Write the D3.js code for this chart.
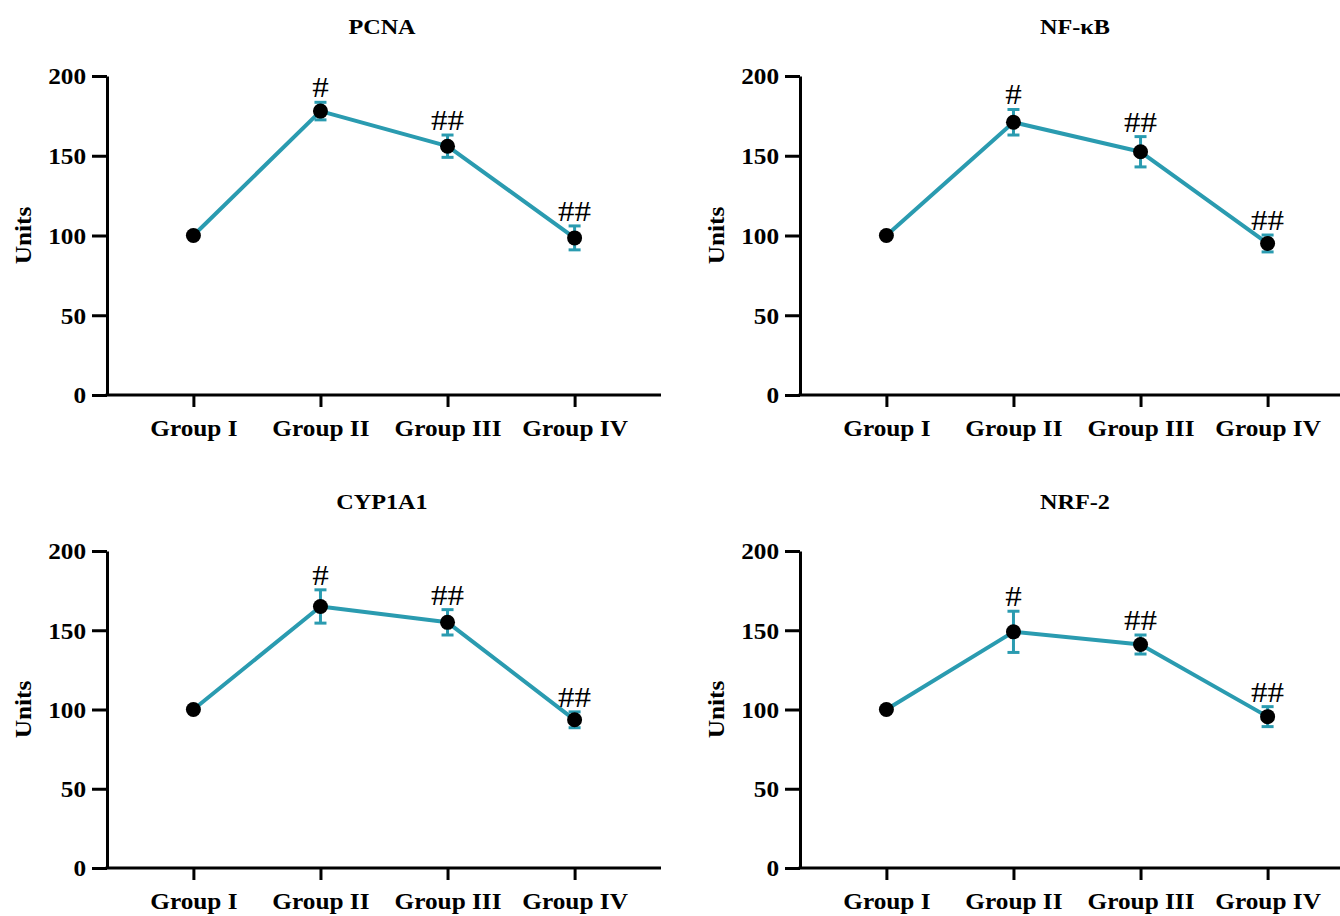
<!DOCTYPE html>
<html>
<head>
<meta charset="utf-8">
<script src="https://cdn.jsdelivr.net/npm/d3@7"></script>
<style>
    body { margin: 0; background: #fff; }
</style>
</head>
<body>
<div id="chart"></div>
<script>
const groups = ["Group I", "Group II", "Group III", "Group IV"];
const markers = ["PCNA", "NF-κB", "CYP1A1", "NRF-2"];
const yTicks = [0, 50, 100, 150, 200];
const signif = ["", "#", "##", "##"];

const pcnaMean = [100, 178, 156, 98.5];
const pcnaErr = [0, 5.5, 7, 7.5];
const nfkbMean = [100, 171, 152.5, 95];
const nfkbErr = [0, 8, 9.5, 5.3];
const cypMean = [100, 165, 155, 93.5];
const cypErr = [0, 10.5, 8, 5];
const nrfMean = [100, 149, 141, 95.5];
const nrfErr = [0, 13, 6, 6.3];

const means = [pcnaMean, nfkbMean, cypMean, nrfMean];
const errs = [pcnaErr, nfkbErr, cypErr, nrfErr];

const lineColor = "#2a9bb0";
const fontFamily = "'Liberation Serif', 'Times New Roman', serif";
const stretch = 1.1;

const svg = d3.select("#chart")
    .append("svg")
    .attr("width", 1340)
    .attr("height", 916)
    .style("font-family", fontFamily);

// panel frames: left edge of y axis, top (200) and bottom (0) of y range
const panels = [
    { x0: 107, top: 76, bottom: 395 },
    { x0: 800, top: 76, bottom: 395 },
    { x0: 107, top: 551, bottom: 868 },
    { x0: 800, top: 551, bottom: 868 }
];
const plotWidth = 554;

panels.forEach((p, k) => {
    const g = svg.append("g").attr("transform", `translate(${p.x0},0)`);

    const x = d3.scalePoint()
        .domain(groups)
        .range([0, plotWidth])
        .padding(0.68);

    const y = d3.scaleLinear()
        .domain([0, 200])
        .range([p.bottom, p.top]);

    // y axis
    const yAxis = g.append("g")
        .call(d3.axisLeft(y).tickValues(yTicks).tickSize(15).tickSizeOuter(0).tickPadding(4));
    yAxis.selectAll("path, line")
        .attr("stroke", "#000")
        .attr("stroke-width", 3);
    yAxis.selectAll("text")
        .attr("x", -19)
        .attr("dy", "0.34em")
        .attr("transform", `scale(${stretch},1)`)
        .style("font-size", "23px")
        .style("font-weight", "bold")
        .style("font-family", fontFamily)
        .attr("fill", "#000");

    // x axis
    const xAxis = g.append("g")
        .attr("transform", `translate(0,${p.bottom})`)
        .call(d3.axisBottom(x).tickSize(12).tickSizeOuter(0));
    xAxis.select(".domain")
        .attr("stroke", "#000")
        .attr("stroke-width", 3)
        .attr("d", `M-1.5,0H${plotWidth}`);
    xAxis.selectAll("line")
        .attr("stroke", "#000")
        .attr("stroke-width", 3);
    xAxis.selectAll("text")
        .attr("y", 41)
        .attr("dy", 0)
        .attr("transform", `scale(${stretch},1)`)
        .style("font-size", "23px")
        .style("font-weight", "bold")
        .style("font-family", fontFamily)
        .attr("fill", "#000");

    // title
    g.append("text")
        .attr("transform", `translate(${plotWidth / 2 - 2},${p.top - 42}) scale(${stretch},1)`)
        .attr("text-anchor", "middle")
        .style("font-size", "22px")
        .style("font-weight", "bold")
        .text(markers[k]);

    // y label
    g.append("text")
        .attr("transform", `translate(-76,${y(100)}) rotate(-90) scale(${stretch},1)`)
        .attr("text-anchor", "middle")
        .style("font-size", "23px")
        .style("font-weight", "bold")
        .text("Units");

    const data = groups.map((grp, i) => ({ grp, mean: means[k][i], err: errs[k][i], sig: signif[i] }));

    // connecting line
    g.append("path")
        .datum(data)
        .attr("fill", "none")
        .attr("stroke", lineColor)
        .attr("stroke-width", 4)
        .attr("stroke-linejoin", "round")
        .attr("d", d3.line().x(d => x(d.grp)).y(d => y(d.mean)));

    // error bars
    const eb = g.selectAll(".eb")
        .data(data.filter(d => d.err > 0))
        .enter()
        .append("g")
        .attr("stroke", lineColor)
        .attr("stroke-width", 3);
    eb.append("line")
        .attr("x1", d => x(d.grp)).attr("x2", d => x(d.grp))
        .attr("y1", d => y(d.mean - d.err)).attr("y2", d => y(d.mean + d.err));
    eb.append("line")
        .attr("x1", d => x(d.grp) - 6).attr("x2", d => x(d.grp) + 6)
        .attr("y1", d => y(d.mean + d.err)).attr("y2", d => y(d.mean + d.err));
    eb.append("line")
        .attr("x1", d => x(d.grp) - 6).attr("x2", d => x(d.grp) + 6)
        .attr("y1", d => y(d.mean - d.err)).attr("y2", d => y(d.mean - d.err));

    // points
    g.selectAll("circle")
        .data(data)
        .enter()
        .append("circle")
        .attr("cx", d => x(d.grp))
        .attr("cy", d => y(d.mean))
        .attr("r", 7.5)
        .attr("fill", "#000");

    // significance marks
    g.selectAll(".sig")
        .data(data.filter(d => d.sig))
        .enter()
        .append("text")
        .attr("transform", d => `translate(${x(d.grp)},${y(d.mean + d.err) - 5}) scale(${stretch},1)`)
        .attr("text-anchor", "middle")
        .style("font-size", "30px")
        .text(d => d.sig);
});
</script>
</body>
</html>
